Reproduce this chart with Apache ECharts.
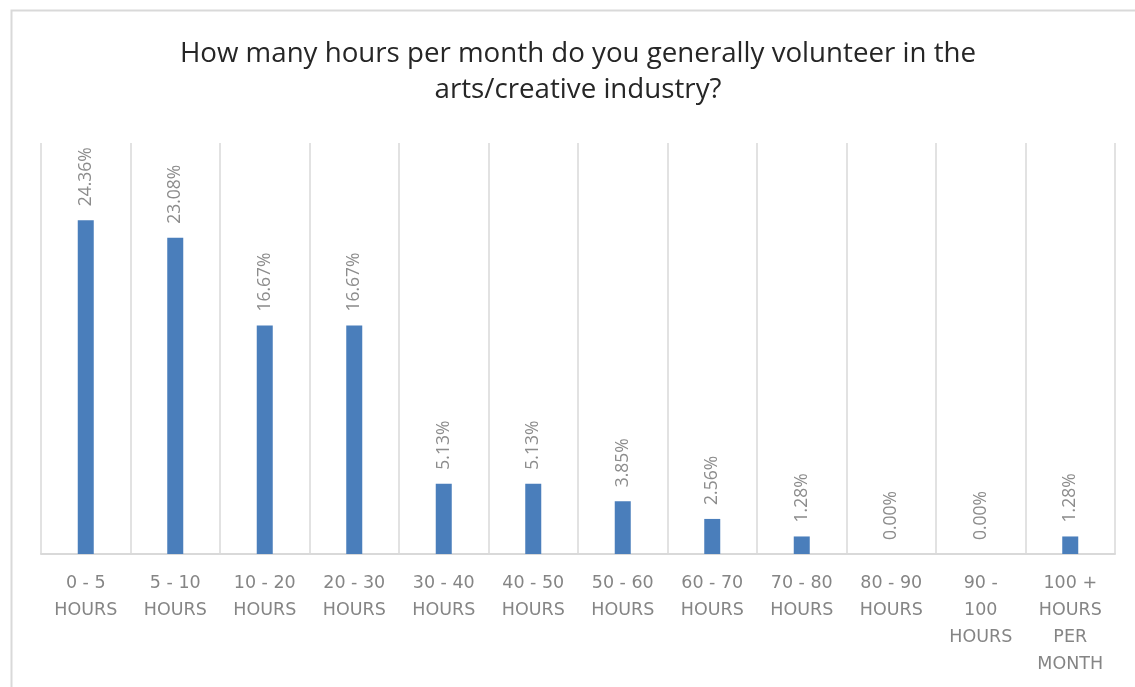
<!DOCTYPE html>
<html><head><meta charset="utf-8">
<script src="https://cdn.jsdelivr.net/npm/echarts@6/dist/echarts.min.js"></script>
<style>html,body{margin:0;padding:0;background:#fff}#c{width:1135px;height:687px}</style>
</head><body><div id="c"></div>
<script>
const titleText = 'How many hours per month do you generally volunteer in the\narts/creative industry?';
const categories = ['0 - 5\nHOURS','5 - 10\nHOURS','10 - 20\nHOURS','20 - 30\nHOURS','30 - 40\nHOURS','40 - 50\nHOURS','50 - 60\nHOURS','60 - 70\nHOURS','70 - 80\nHOURS','80 - 90\nHOURS','90 -\n100\nHOURS','100 +\nHOURS\nPER\nMONTH'];
const values = [24.36, 23.08, 16.67, 16.67, 5.13, 5.13, 3.85, 2.56, 1.28, 0.00, 0.00, 1.28];

const chart = echarts.init(document.getElementById('c'), null, {renderer:'canvas'});
chart.setOption({
  animation:false,
  backgroundColor:'#fff',
  graphic:[
    {type:'rect', shape:{x:11.5,y:10.5,width:1140,height:700}, style:{fill:'none', stroke:'#d9d9d9', lineWidth:2}, silent:true},
    {type:'text', x:578, y:36, silent:true, style:{text:titleText, align:'center', verticalAlign:'top',
      fontFamily:'Open Sans', fontSize:27.7, fontWeight:'normal', fill:'#262626', lineHeight:36}}
  ],
  grid:{left:41, right:20, top:143, bottom:133},
  xAxis:{type:'category', data:categories,
    axisLine:{show:true, lineStyle:{color:'#d9d9d9', width:2}},
    axisTick:{show:false},
    splitLine:{show:true, interval:0, lineStyle:{color:'#d9d9d9', width:1.5}},
    axisLabel:{interval:0, margin:16, color:'#858585', fontFamily:'DejaVu Sans', fontSize:17.5, fontWeight:'normal', lineHeight:27}},
  yAxis:{type:'value', min:0, max:30, show:false, splitLine:{show:false}},
  series:[{type:'bar', data:values, barWidth:16,
    itemStyle:{color:'#4a7ebb'},
    label:{show:true, position:'top', rotate:90, align:'left', verticalAlign:'middle', distance:14,
      formatter:p=>p.value.toFixed(2)+'%', color:'#8c8c8c', fontFamily:'Open Sans', fontSize:17.5}}]
});
</script></body></html>
